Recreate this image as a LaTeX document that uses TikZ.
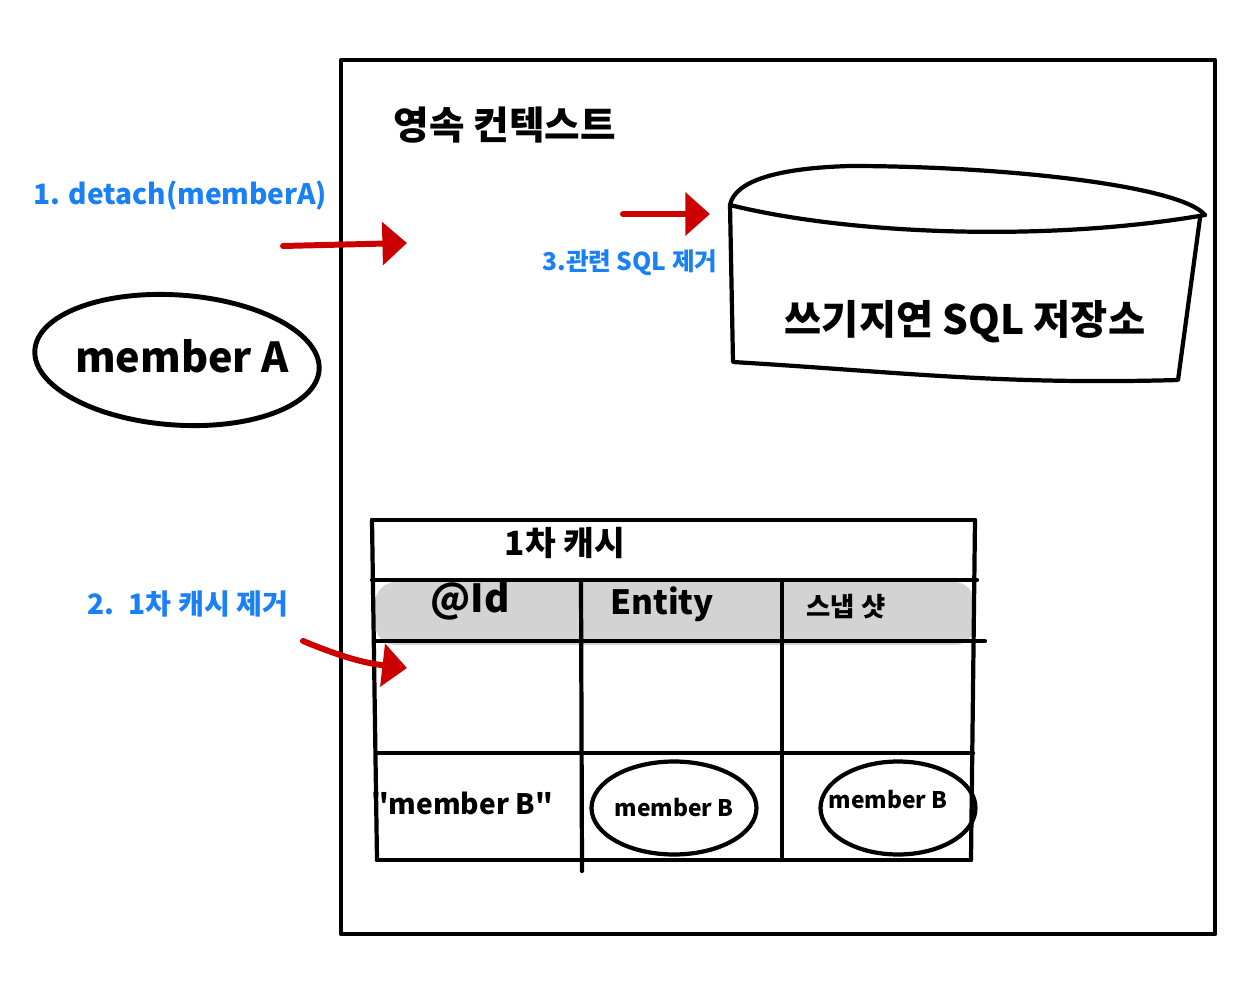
\documentclass[tikz,border=0pt]{standalone}
\usepackage{fontspec}
\setmainfont{Noto Sans CJK KR}
\newfontfamily\rawfont{Noto Sans CJK KR}
\usetikzlibrary{arrows.meta,positioning,shapes.geometric}
\definecolor{note}{HTML}{1A80F5}
\definecolor{flow}{HTML}{CC0000}
\definecolor{cachebg}{HTML}{D3D3D3}

\begin{document}
\begin{tikzpicture}[x=0.02cm, y=-0.02cm, line join=round, line cap=round,
    pen/.style={line width=2.4pt},
    redarrow/.style={flow, line width=3.4pt, -{Triangle[length=14pt,width=24pt]}},
    notetext/.style={note, inner sep=0pt},
    oval/.style={draw, ellipse, inner sep=0pt}]
    \useasboundingbox (0,0) rectangle (1258,1000);

    % persistence context frame
    \draw[pen] (341,60) rectangle (1215,934);
    \node[font=\bfseries\fontsize{22}{26}\selectfont] (title) at (505,125) {영속 컨텍스트};

    % detached entity
    \node[oval, line width=2.8pt, minimum width=5.7cm, minimum height=2.6cm, rotate=-4] (memberA) at (177,360) {};
    \node[font=\bfseries\fontsize{23.5}{28}\selectfont] (memberAtext) at (182,356) {member A};
    \node[notetext, font=\bfseries\fontsize{16}{20}\selectfont] (step1) at (180,196) {1. detach(memberA)};
    \coordinate (a1s) at (283,246);
    \coordinate (a1e) at (407,243);
    \draw[redarrow] (a1s) -- (a1e);

    % write-behind SQL store
    \draw[pen] (730,205) .. controls (735,180) and (780,168) .. (850,166)
               .. controls (1000,166) and (1180,185) .. (1205,215);
    \draw[pen] (730,205) .. controls (850,235) and (1050,242) .. (1205,215);
    \draw[pen] (730,205) -- (733,362) .. controls (900,372) and (1000,385) .. (1178,380) -- (1200,218);
    \node[font=\bfseries\fontsize{23}{28}\selectfont] (store) at (965,322) {쓰기지연 SQL 저장소};
    \node[notetext, font=\bfseries\fontsize{14}{18}\selectfont] (step3) at (630,263) {3.관련 SQL 제거};
    \coordinate (a3s) at (623,214);
    \coordinate (a3e) at (710,214);
    \draw[redarrow] (a3s) -- (a3e);

    % first-level cache table
    \fill[cachebg, rounded corners=12pt] (375,582) rectangle (975,645);
    \draw[pen] (372,520) -- (975,520);
    \draw[pen] (372,520) -- (377,860);
    \draw[pen] (975,520) -- (971,860);
    \draw[pen] (372,580) -- (977,580);
    \draw[pen] (376,641) -- (985,641);
    \draw[pen] (377,753) -- (973,753);
    \draw[pen] (377,860) -- (971,860);
    \draw[pen] (581,580) -- (582,871);
    \draw[pen] (782,580) -- (782,860);
    \node[font=\bfseries\fontsize{19}{24}\selectfont] (cache) at (565,543) {1차 캐시};
    \node[font=\bfseries\fontsize{22}{26}\selectfont] (idcol) at (470,601) {@Id};
    \node[font=\bfseries\fontsize{19}{24}\selectfont] (entitycol) at (662,604) {Entity};
    \node[font=\bfseries\fontsize{15}{20}\selectfont] (snapcol) at (846,607) {스냅 샷};
    \node[font=\rawfont\bfseries\fontsize{16}{20}\selectfont] (keyB) at (462,803) {"member B"};
    \node[oval, pen, minimum width=3.3cm, minimum height=1.86cm] (entityB) at (674,808) {};
    \node[font=\bfseries\fontsize{13}{16}\selectfont] (entityBtext) at (entityB) {member B};
    \node[oval, pen, minimum width=3.1cm, minimum height=1.86cm] (snapB) at (898,808) {};
    \node[font=\bfseries\fontsize{13}{16}\selectfont] (snapBtext) at (888,800) {member B};

    \node[notetext, font=\bfseries\fontsize{16}{20}\selectfont] (step2) at (188,604) {2.\enspace 1차 캐시 제거};
    \coordinate (a2s) at (303,641);
    \coordinate (a2e) at (407,668);
    \draw[redarrow] (a2s) to[bend right=8] (a2e);
\end{tikzpicture}
\end{document}
